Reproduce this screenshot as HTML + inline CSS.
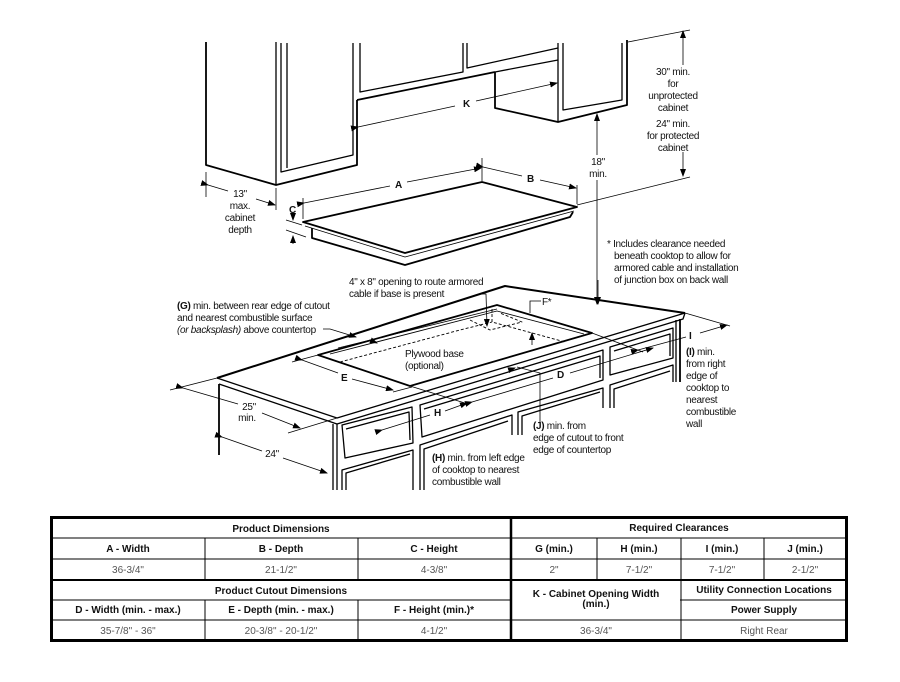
<!DOCTYPE html>
<html><head><meta charset="utf-8"><style>
html,body{margin:0;padding:0;background:#fff;}
svg{display:block;}
.t{font-family:"Liberation Sans",sans-serif;font-size:10px;fill:#111;letter-spacing:-0.3px;}
.b{font-weight:bold;}
.th{font-family:"Liberation Sans",sans-serif;font-size:10px;font-weight:bold;fill:#111;text-anchor:middle;}
.tv{font-family:"Liberation Sans",sans-serif;font-size:10px;fill:#555;text-anchor:middle;}
</style></head><body>
<svg width="900" height="682" viewBox="0 0 900 682" xmlns="http://www.w3.org/2000/svg">
<defs>
<marker id="ar" markerWidth="8" markerHeight="6" refX="7" refY="3" orient="auto" markerUnits="userSpaceOnUse"><path d="M0,0 L8,3 L0,6 z" fill="#000"/></marker>
</defs>
<g fill="none" stroke="#000" stroke-width="1.3" stroke-linejoin="round">
<!-- Upper cabinets -->
<polyline points="206,42 206,165 276,185 357,165 357,100" stroke-width="1.8"/>
<line x1="276" y1="42" x2="276" y2="185"/>
<polyline points="281,43 281,172 353,155 353,43"/>
<polyline points="287,43 287,168"/>
<polyline points="357,100 495,72" stroke-width="1.8"/>
<polyline points="360,43 360,92 463,72 463,43"/>
<polyline points="467,43 467,68 558,48"/>
<polyline points="495,72 495,108 558,122 627,105 627,40" stroke-width="1.8"/>
<line x1="558" y1="60" x2="558" y2="122"/>
<line x1="495" y1="72" x2="558" y2="60"/>
<polyline points="563,43 563,110 622,100 622,43"/>
<line x1="558" y1="43" x2="558" y2="60"/>
<!-- cooktop -->
<polygon points="303,222 482,182 577,207 405,253" stroke-width="1.8"/>
<polyline points="305,226 405,257 574,211" stroke-width="0.8"/>
<polyline points="312,228 312,238 405,265 570,217 573,212" stroke-width="1.8"/>
<!-- countertop -->
<polyline points="217,378 505,286 685,313" stroke-width="2"/>
<polyline points="217,378 337,418 685,313"/>
<polyline points="219,384 337,424 683,319 685,313"/>
<line x1="219" y1="384" x2="219" y2="455" stroke-width="1.8"/>
<line x1="333" y1="424" x2="333" y2="490"/>
<line x1="337" y1="424" x2="337" y2="490"/>
<line x1="680" y1="319" x2="680" y2="382" stroke-width="1.8"/>
<line x1="676" y1="320" x2="676" y2="382"/>
<!-- drawers -->
<polygon points="342,425 412,407 413,443 345,458"/>
<polyline points="346,429 409,412 410,440"/>
<polyline points="342,490 342,470 413,450 413,490"/>
<polyline points="346,490 346,473 410,454"/>
<polygon points="420,405 603,350 603,380 422,437"/>
<polyline points="424,409 600,356 600,378"/>
<polyline points="420,490 420,445 512,415 512,435"/>
<polyline points="424,490 424,449 508,421"/>
<polyline points="518,435 518,412 603,388 603,408"/>
<polyline points="522,435 522,416 600,392"/>
<polygon points="610,347 673,328 673,358 610,375"/>
<polyline points="614,351 670,334 670,356"/>
<polyline points="610,408 610,385 673,365 673,382"/>
<polyline points="614,408 614,389 670,371"/>
<!-- cutout -->
<polygon points="318,355 497,305 592,333 410,386" stroke-width="1.8"/>
<polyline points="330,354 497,311 584,334" stroke-width="0.9"/>
<line x1="338" y1="348" x2="497" y2="309" stroke-width="0.9"/>
<polyline points="340,362 460,330 492,322" stroke-dasharray="3,2" stroke-width="0.9"/>
<polyline points="492,309 492,322 565,342" stroke-dasharray="3,2" stroke-width="0.9"/>
<polyline points="470,320 490,330 522,322 500,313" stroke-dasharray="3,2" stroke-width="0.9"/>
</g>
<g fill="none" stroke="#000" stroke-width="0.8">
<!-- dims upper -->
<line x1="358" y1="127" x2="455" y2="106" marker-start="url(#ar)"/>
<line x1="476" y1="101" x2="557" y2="83" marker-end="url(#ar)"/>
<line x1="628" y1="42" x2="690" y2="30"/>
<line x1="577" y1="205" x2="690" y2="177"/>
<line x1="683" y1="65" x2="683" y2="31" marker-end="url(#ar)"/>
<line x1="683" y1="152" x2="683" y2="176" marker-end="url(#ar)"/>
<line x1="597" y1="155" x2="597" y2="114" marker-end="url(#ar)"/>
<line x1="597" y1="180" x2="597" y2="304" marker-end="url(#ar)"/>
<line x1="206" y1="172" x2="206" y2="197"/>
<line x1="276" y1="188" x2="276" y2="210"/>
<line x1="208" y1="185" x2="228" y2="191" marker-start="url(#ar)"/>
<line x1="256" y1="199" x2="275" y2="205" marker-end="url(#ar)"/>
<line x1="303" y1="198" x2="303" y2="219"/>
<line x1="482" y1="158" x2="482" y2="181"/>
<line x1="577" y1="185" x2="577" y2="204"/>
<line x1="304" y1="203" x2="390" y2="186" marker-start="url(#ar)"/>
<line x1="407" y1="182" x2="481" y2="168" marker-end="url(#ar)"/>
<line x1="483" y1="167" x2="522" y2="176" marker-start="url(#ar)"/>
<line x1="540" y1="180" x2="576" y2="188" marker-end="url(#ar)"/>
<line x1="286" y1="220" x2="302" y2="225"/>
<line x1="286" y1="230" x2="306" y2="237"/>
<line x1="293" y1="212" x2="293" y2="220" marker-end="url(#ar)"/>
<line x1="293" y1="244" x2="293" y2="236" marker-end="url(#ar)"/>
<line x1="598" y1="280" x2="598" y2="304" marker-end="url(#ar)"/>
<!-- lower dims -->
<line x1="217" y1="378" x2="170" y2="390"/>
<line x1="337" y1="418" x2="288" y2="433"/>
<line x1="183" y1="388" x2="238" y2="404" marker-start="url(#ar)"/>
<line x1="262" y1="413" x2="300" y2="428" marker-end="url(#ar)"/>
<line x1="222" y1="437" x2="262" y2="451" marker-start="url(#ar)"/>
<line x1="283" y1="458" x2="327" y2="473" marker-end="url(#ar)"/>
<line x1="292" y1="362" x2="318" y2="355"/>
<line x1="393" y1="392" x2="412" y2="387"/>
<line x1="302" y1="360" x2="338" y2="373" marker-start="url(#ar)"/>
<line x1="352" y1="379" x2="393" y2="390" marker-end="url(#ar)"/>
<line x1="382" y1="430" x2="430" y2="415" marker-start="url(#ar)"/>
<line x1="445" y1="411" x2="467" y2="403" marker-end="url(#ar)"/>
<line x1="410" y1="386" x2="468" y2="404"/>
<line x1="472" y1="402" x2="553" y2="378" marker-start="url(#ar)"/>
<line x1="570" y1="373" x2="653" y2="348" marker-end="url(#ar)"/>
<line x1="592" y1="333" x2="643" y2="352"/>
<line x1="685" y1="313" x2="730" y2="326"/>
<line x1="638" y1="350" x2="686" y2="337" marker-start="url(#ar)"/>
<line x1="700" y1="333" x2="727" y2="325" marker-end="url(#ar)"/>
<polyline points="517,367 540,373 540,422"/>
<line x1="512" y1="369" x2="515" y2="368" marker-end="url(#ar)"/>
<polyline points="323,329 330,329 356,337" marker-end="url(#ar)"/>
<line x1="370" y1="340" x2="377" y2="343" marker-end="url(#ar)"/>
<polyline points="478,294 486,294 487,326" marker-end="url(#ar)"/>
<polyline points="541,301 530,301 530,313"/>
<line x1="532" y1="345" x2="532" y2="333" marker-end="url(#ar)"/>
</g>
<g class="t">
<text x="463" y="107" class="b">K</text>
<text x="673" y="75" text-anchor="middle">30" min.</text>
<text x="673" y="87" text-anchor="middle">for</text>
<text x="673" y="99" text-anchor="middle">unprotected</text>
<text x="673" y="111" text-anchor="middle">cabinet</text>
<text x="673" y="127" text-anchor="middle">24" min.</text>
<text x="673" y="139" text-anchor="middle">for protected</text>
<text x="673" y="151" text-anchor="middle">cabinet</text>
<text x="598" y="165" text-anchor="middle">18"</text>
<text x="598" y="177" text-anchor="middle">min.</text>
<text x="240" y="197" text-anchor="middle">13"</text>
<text x="240" y="209" text-anchor="middle">max.</text>
<text x="240" y="221" text-anchor="middle">cabinet</text>
<text x="240" y="233" text-anchor="middle">depth</text>
<text x="395" y="188" class="b">A</text>
<text x="527" y="182" class="b">B</text>
<text x="289" y="213" class="b">C</text>
<text x="607" y="247">* Includes clearance needed</text>
<text x="614" y="259">beneath cooktop to allow for</text>
<text x="614" y="271">armored cable and installation</text>
<text x="614" y="283">of junction box on back wall</text>
<text x="349" y="285">4" x 8" opening to route armored</text>
<text x="349" y="297">cable if base is present</text>
<text x="542" y="305">F*</text>
<text x="177" y="309"><tspan class="b">(G)</tspan> min. between rear edge of cutout</text>
<text x="177" y="321">and nearest combustible surface</text>
<text x="177" y="333"><tspan font-style="italic">(or backsplash)</tspan> above countertop</text>
<text x="405" y="357">Plywood base</text>
<text x="405" y="369">(optional)</text>
<text x="341" y="381" class="b">E</text>
<text x="557" y="378" class="b">D</text>
<text x="434" y="416" class="b">H</text>
<text x="689" y="339" class="b">I</text>
<text x="249" y="410" text-anchor="middle">25"</text>
<text x="247" y="421" text-anchor="middle">min.</text>
<text x="272" y="457" text-anchor="middle">24"</text>
<text x="686" y="355"><tspan class="b">(I)</tspan> min.</text>
<text x="686" y="367">from right</text>
<text x="686" y="379">edge of</text>
<text x="686" y="391">cooktop to</text>
<text x="686" y="403">nearest</text>
<text x="686" y="415">combustible</text>
<text x="686" y="427">wall</text>
<text x="533" y="429"><tspan class="b">(J)</tspan> min. from</text>
<text x="533" y="441">edge of cutout to front</text>
<text x="533" y="453">edge of countertop</text>
<text x="432" y="461"><tspan class="b">(H)</tspan> min. from left edge</text>
<text x="432" y="473">of cooktop to nearest</text>
<text x="432" y="485">combustible wall</text>
</g>
<!-- table -->
<g fill="none" stroke="#000">
<rect x="51.5" y="517.5" width="795" height="123" stroke-width="3"/>
<line x1="511" y1="517" x2="511" y2="641" stroke-width="2.5"/>
<line x1="51" y1="580" x2="847" y2="580" stroke-width="2"/>
<g stroke-width="1">
<line x1="51" y1="538" x2="847" y2="538"/>
<line x1="51" y1="559" x2="847" y2="559"/>
<line x1="51" y1="600" x2="511" y2="600"/>
<line x1="680" y1="600" x2="847" y2="600"/>
<line x1="51" y1="620" x2="847" y2="620"/>
<line x1="205" y1="538" x2="205" y2="580"/>
<line x1="358" y1="538" x2="358" y2="580"/>
<line x1="205" y1="600" x2="205" y2="641"/>
<line x1="358" y1="600" x2="358" y2="641"/>
<line x1="597" y1="538" x2="597" y2="580"/>
<line x1="681" y1="538" x2="681" y2="641"/>
<line x1="764" y1="538" x2="764" y2="580"/>
</g>
</g>
<g>
<text class="th" x="281" y="532">Product Dimensions</text>
<text class="th" x="679" y="531">Required Clearances</text>
<text class="th" x="128" y="552">A - Width</text>
<text class="th" x="281" y="552">B - Depth</text>
<text class="th" x="434" y="552">C - Height</text>
<text class="th" x="554" y="552">G (min.)</text>
<text class="th" x="639" y="552">H (min.)</text>
<text class="th" x="722" y="552">I (min.)</text>
<text class="th" x="805" y="552">J (min.)</text>
<text class="tv" x="128" y="573">36-3/4"</text>
<text class="tv" x="281" y="573">21-1/2"</text>
<text class="tv" x="434" y="573">4-3/8"</text>
<text class="tv" x="554" y="573">2"</text>
<text class="tv" x="639" y="573">7-1/2"</text>
<text class="tv" x="722" y="573">7-1/2"</text>
<text class="tv" x="805" y="573">2-1/2"</text>
<text class="th" x="281" y="594">Product Cutout Dimensions</text>
<text class="th" x="596" y="597">K - Cabinet Opening Width</text>
<text class="th" x="596" y="607">(min.)</text>
<text class="th" x="764" y="593">Utility Connection Locations</text>
<text class="th" x="764" y="613">Power Supply</text>
<text class="th" x="128" y="613">D - Width (min. - max.)</text>
<text class="th" x="281" y="613">E - Depth (min. - max.)</text>
<text class="th" x="434" y="613">F - Height (min.)*</text>
<text class="tv" x="128" y="634">35-7/8" - 36"</text>
<text class="tv" x="281" y="634">20-3/8" - 20-1/2"</text>
<text class="tv" x="434" y="634">4-1/2"</text>
<text class="tv" x="596" y="634">36-3/4"</text>
<text class="tv" x="764" y="634">Right Rear</text>
</g>
</svg>
</body></html>
